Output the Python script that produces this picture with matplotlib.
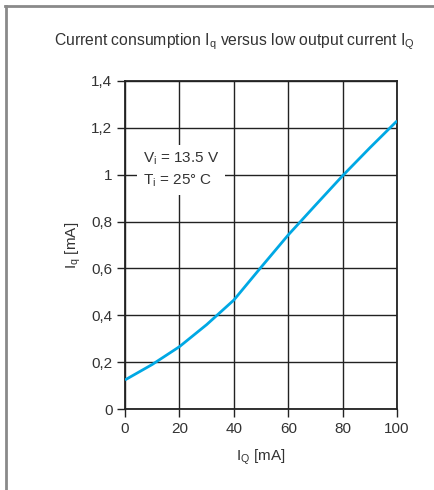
import matplotlib
matplotlib.use("Agg")
import matplotlib.pyplot as plt
from matplotlib.lines import Line2D

plt.rcParams['font.family'] = ['Liberation Sans', 'DejaVu Sans']
plt.rcParams['mathtext.fontset'] = 'custom'
plt.rcParams['mathtext.rm'] = 'Liberation Sans'

# output current I_Q [mA] and current consumption I_q [mA]
iq_out = [0, 10, 20, 30, 40, 50, 60, 70, 80, 90, 100]
iq_cons = [0.124, 0.19, 0.266, 0.36, 0.465, 0.605, 0.743, 0.87, 0.996, 1.115, 1.23]

x_ticks = [0, 20, 40, 60, 80, 100]
y_ticks = [0, 0.2, 0.4, 0.6, 0.8, 1.0, 1.2, 1.4]
y_ticklabels = ["0", "0,2", "0,4", "0,6", "0,8", "1", "1,2", "1,4"]

TXT = '#333333'
GRID = '#222222'

fig = plt.figure(figsize=(4.34, 4.90), dpi=100)
ax = fig.add_axes([0.288, 0.1653, 0.627, 0.6694])

ax.plot(iq_out, iq_cons, color='#00a8e4', lw=2.0, zorder=4, solid_capstyle='butt')

ax.set_xlim(0, 100)
ax.set_ylim(0, 1.4)
ax.set_xticks(x_ticks)
ax.set_yticks(y_ticks)
ax.set_yticklabels(y_ticklabels)
ax.grid(True, color=GRID, lw=1.0)
ax.set_axisbelow(True)
for s in ax.spines.values():
    s.set_color(GRID)
    s.set_linewidth(1.3)
ax.tick_params(direction='out', length=6, width=1.0, color=GRID,
               labelsize=11, labelcolor=TXT, pad=3)

ax.set_xlabel(r'$\mathregular{I_Q}$ [mA]', fontsize=11, color=TXT, labelpad=9)
ax.set_ylabel(r'$\mathregular{I_q}$ [mA]', fontsize=11, color=TXT, labelpad=6)

# operating conditions, white box hides the grid behind it
ax.text(6.6, 1.02, 'V$\\mathregular{_i}$ = 13.5 V\nT$\\mathregular{_i}$ = 25° C',
        fontsize=11, color=TXT, ha='left', va='center', linespacing=1.45,
        bbox=dict(facecolor='white', edgecolor='none', pad=4), zorder=3)

fig.text(0.54, 0.914, r'Current consumption $\mathregular{I_q}$ versus low output current $\mathregular{I_Q}$',
         fontsize=11.3, color=TXT, ha='center', va='center')

# frame on the left and top
fig.add_artist(Line2D([0.0138, 0.0138], [0, 0.988], transform=fig.transFigure,
                      color='#8a8a8a', lw=2.0))
fig.add_artist(Line2D([0.0115, 1.0], [0.988, 0.988], transform=fig.transFigure,
                      color='#8a8a8a', lw=2.0))

fig.savefig('out.png', dpi=100)
